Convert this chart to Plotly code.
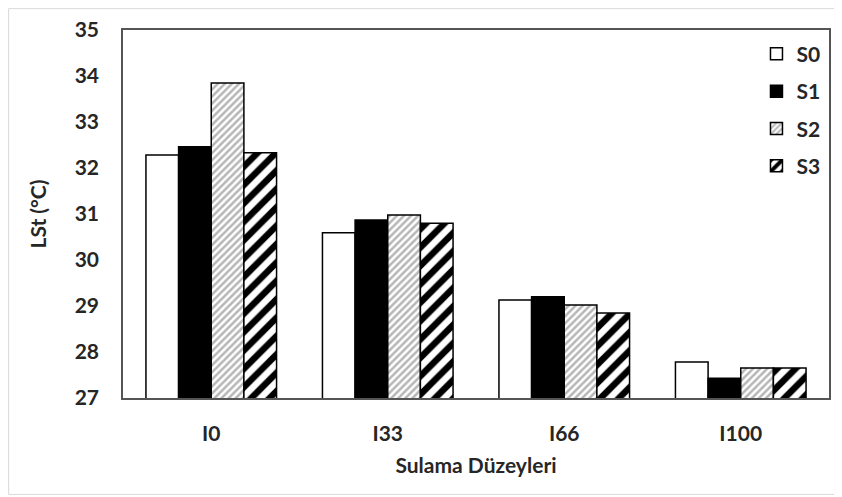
import plotly.graph_objects as go

categories = ["I0", "I33", "I66", "I100"]
S0 = [32.28, 30.59, 29.13, 27.78]
S1 = [32.46, 30.87, 29.20, 27.43]
S2 = [33.85, 30.98, 29.02, 27.65]
S3 = [32.33, 30.80, 28.85, 27.65]
series_names = ["S0", "S1", "S2", "S3"]
y_ticks = [27, 28, 29, 30, 31, 32, 33, 34, 35]

FONT = "Lato"
TXT = "#262626"
FS = 21
styles = [
    dict(color="white", pattern=dict(shape="")),
    dict(color="black", pattern=dict(shape="")),
    dict(color="white", pattern=dict(shape="/", size=5, solidity=0.5, fgcolor="#6e6e6e", bgcolor="white")),
    dict(color="white", pattern=dict(shape="/", size=13, solidity=0.5, fgcolor="black", bgcolor="white", fgopacity=1)),
]

fig = go.Figure()
for name, vals, st in zip(series_names, [S0, S1, S2, S3], styles):
    fig.add_trace(go.Bar(
        name=name, x=categories, y=vals, legendgroup=name,
        marker=dict(color=st["color"], pattern=st["pattern"],
                    line=dict(color="black", width=1.5)),
    ))

fig.update_layout(
    width=834, height=489,
    margin=dict(l=115, r=13, t=22, b=99),
    paper_bgcolor="white", plot_bgcolor="white",
    barmode="group", bargap=0.26, bargroupgap=0,
    font=dict(family=FONT, size=FS, color=TXT),
    showlegend=True,
    legend=dict(x=0.995, y=0.99, xanchor="right", yanchor="top",
                bgcolor="rgba(0,0,0,0)", tracegroupgap=7,
                font=dict(family=FONT, size=FS, color=TXT, weight="bold"),
                itemwidth=30),
    xaxis=dict(
        automargin=False,
        showline=True, linecolor="#555555", linewidth=1.5, mirror=True,
        ticks="", tickfont=dict(family=FONT, size=FS, weight="bold", color=TXT),
        ticklabelstandoff=16,
        title=dict(text="Sulama Düzeyleri", font=dict(family=FONT, size=FS, weight="bold", color=TXT), standoff=14),
    ),
    yaxis=dict(
        automargin=False,
        range=[27, 35], tickvals=y_ticks, showgrid=False, zeroline=False,
        showline=True, linecolor="#555555", linewidth=1.5, mirror=True,
        ticks="", tickfont=dict(family=FONT, size=FS, weight="bold", color=TXT),
        ticklabelstandoff=18,
        title=dict(text="LSt (°C)", font=dict(family=FONT, size=FS, weight="bold", color=TXT), standoff=22),
    ),
)
fig.add_shape(type="rect", xref="paper", yref="paper", x0=-0.162, x1=1.016, y0=-0.262, y1=1.058,
              line=dict(color="#d9d9d9", width=1), layer="below")

fig.write_html("out.html")
